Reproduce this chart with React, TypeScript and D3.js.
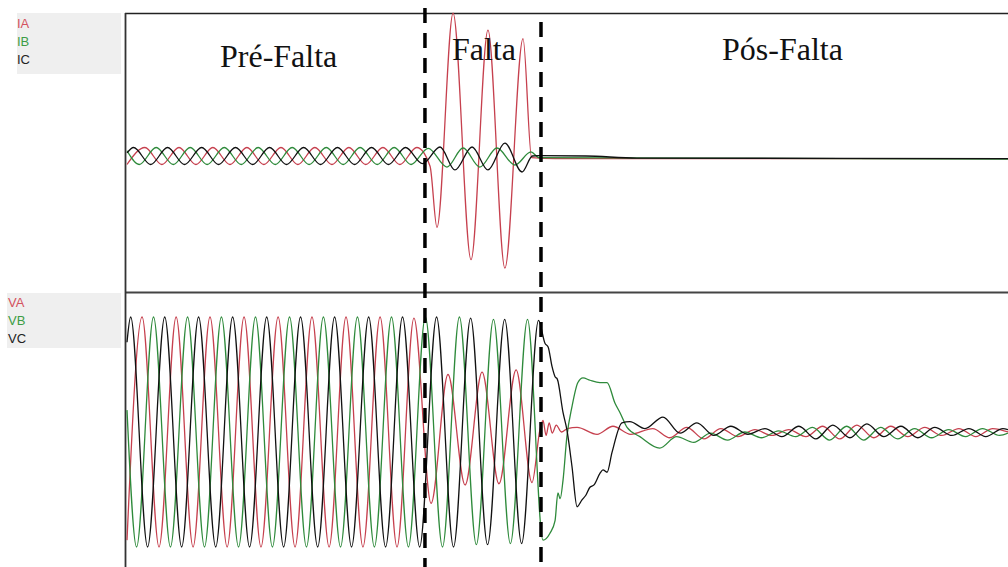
import React from 'react';
import * as d3 from 'd3';

const W = 1008;
const H = 567;

// ---- data (time in ms, currents in kA, voltages in pu) ----
const currentLabels = ['IA', 'IB', 'IC'];
const voltageLabels = ['VA', 'VB', 'VC'];
const regionLabels = ['Pré-Falta', 'Falta', 'Pós-Falta'];
const faultStart = 146.1;
const faultEnd = 203.0;

type P = [number, number];

const iaPoints: P[] = [
  [0, -0.5], [8.8, 0.5], [17.1, -0.5], [25.5, 0.5], [33.8, -0.5], [42.1, 0.5], [50.5, -0.5], [58.8, 0.5],
  [67.1, -0.5], [75.5, 0.5], [83.8, -0.5], [92.1, 0.5], [100.5, -0.5], [108.8, 0.5], [117.1, -0.5], [125.5, 0.5],
  [133.8, -0.5], [142.1, 0.5], [148.6, -0.6], [152, -4.2], [159.9, 8.4], [168.7, -6.1], [177, 7.4], [185.3, -6.6],
  [194.2, 6.9], [198.4, -0.1], [210, -0.15], [432, -0.15],
];
const ibPoints: P[] = [
  [0, 0.31], [6.0, -0.5], [14.3, 0.5], [22.7, -0.5], [31.0, 0.5], [39.3, -0.5], [47.7, 0.5], [56.0, -0.5],
  [64.3, 0.5], [72.7, -0.5], [81.0, 0.5], [89.3, -0.5], [97.7, 0.5], [106.0, -0.5], [114.3, 0.5], [122.7, -0.5],
  [131.0, 0.5], [139.3, -0.5], [147.7, 0.45], [156.9, -0.65], [164.8, 0.47], [173, -0.65], [181.4, 0.47],
  [190.2, -0.53], [198.1, 0.24], [202, -0.1], [432, -0.18],
];
const icPoints: P[] = [
  [0, 0.18], [3.2, 0.5], [11.6, -0.5], [19.9, 0.5], [28.2, -0.5], [36.6, 0.5], [44.9, -0.5], [53.2, 0.5],
  [61.6, -0.5], [69.9, 0.5], [78.2, -0.5], [86.6, 0.5], [94.9, -0.5], [103.2, 0.5], [111.6, -0.5], [119.9, 0.5],
  [128.2, -0.5], [136.6, 0.5], [144.9, -0.45], [153.5, 0.53], [160.8, -0.82], [169.2, 0.53], [177, -0.82],
  [185.3, 0.76], [193.7, -0.94], [198.8, 0.0], [202, 0.02], [225, 0.0], [250, -0.12], [432, -0.15],
];

const vaPoints: P[] = [
  [0, -0.94], [7.4, 1], [15.7, -1], [24.1, 1], [32.4, -1], [40.7, 1], [49.1, -1], [57.4, 1], [65.7, -1],
  [74.1, 1], [82.4, -1], [90.7, 1], [99.1, -1], [107.4, 1], [115.7, -1], [124.1, 1], [132.4, -1], [140.7, 0.99],
  [149.1, -0.62], [157.4, 0.5], [165.8, -0.46], [174.1, 0.52], [182.4, -0.45], [190.8, 0.54], [198.6, -0.44],
  [202.5, 0.02], [204, 0.1], [205.5, -0.03], [207, 0.08], [208.5, -0.01], [210.5, 0.06], [213, 0.0],
  [216, 0.03], [220.7, 0.04], [230.5, -0.02], [238.3, 0.05], [247, -0.02], [257.8, 0.03], [266.2, -0.05],
  [274.5, 0.04], [282.9, -0.06], [291.2, 0.03], [299.5, -0.04], [307.9, 0.02], [316.2, -0.03], [324.5, 0.02],
  [332.9, -0.04], [341.2, 0.05], [349.5, -0.06], [357.9, 0.06], [366.2, -0.05], [374.5, 0.05], [382.9, -0.04],
  [391.2, 0.04], [399.5, -0.03], [407.9, 0.03], [416.2, -0.04], [424.5, 0.03], [432, 0.0],
];
const vbPoints: P[] = [
  [0, 0.19], [4.7, -1], [13.0, 1], [21.3, -1], [29.7, 1], [38.0, -1], [46.3, 1], [54.7, -1], [63.0, 1],
  [71.3, -1], [79.7, 1], [88.0, -1], [96.3, 1], [104.7, -1], [113.0, 1], [121.3, -1], [129.7, 1], [138.0, -1],
  [146.3, 1], [154.7, -1], [163.0, 1], [171.3, -0.98], [179.7, 0.98], [188.0, -0.97], [196.4, 0.98],
  [204.0, -0.94], [207.4, -0.88], [209.9, -0.77], [211.3, -0.53], [212.4, -0.58], [213.8, -0.42], [215.7, -0.04],
  [218.2, 0.22], [221.1, 0.43], [223.6, 0.47], [227.0, 0.45], [231.9, 0.43], [235.4, 0.43], [239.3, 0.25],
  [241.7, 0.17], [245.2, 0.04], [251.5, -0.04], [261.2, -0.14], [269.5, -0.04], [277.9, -0.09], [286.2, -0.01],
  [294.5, -0.07], [302.9, 0.0], [311.2, -0.05], [319.5, 0.01], [327.9, -0.04], [336.2, 0.04], [344.5, -0.07],
  [352.9, 0.05], [361.2, -0.07], [369.5, 0.04], [377.9, -0.06], [386.2, 0.03], [394.5, -0.05], [402.9, 0.02],
  [411.2, -0.04], [419.5, 0.03], [427.9, -0.03], [432, -0.01],
];
const vcPoints: P[] = [
  [0, 0.78], [1.8, 1], [10.1, -1], [18.5, 1], [26.8, -1], [35.1, 1], [43.5, -1], [51.8, 1], [60.1, -1],
  [68.5, 1], [76.8, -1], [85.1, 1], [93.5, -1], [101.8, 1], [110.1, -1], [118.5, 1], [126.8, -1], [135.1, 1],
  [143.5, -1], [151.8, 1], [160.1, -1], [168.5, 0.99], [176.8, -0.98], [185.2, 0.98], [193.5, -0.97],
  [201.8, 0.97], [205.0, 0.77], [206.5, 0.74], [208.4, 0.57], [209.9, 0.48], [211, 0.46], [213.8, 0.17],
  [215.7, 0.02], [218.2, -0.3], [220.7, -0.65], [223.1, -0.59], [225, -0.55], [227, -0.48], [229, -0.46],
  [231.9, -0.36], [233.4, -0.33], [235.4, -0.35], [237.8, -0.18], [242.7, 0.08], [246.6, 0.09], [254, 0.03],
  [262.8, 0.13], [271.2, -0.01], [279.5, 0.08], [287.8, -0.03], [296.1, 0.05], [304.5, -0.02], [312.8, 0.03],
  [321.1, -0.04], [329.5, 0.05], [337.8, -0.06], [346.1, 0.06], [354.5, -0.05], [362.8, 0.07], [371.1, -0.04],
  [379.5, 0.05], [387.8, -0.05], [396.1, 0.04], [404.5, -0.03], [412.8, 0.03], [421.1, -0.04], [429.5, 0.03],
  [432, 0.02],
];

const currentSeries = [iaPoints, ibPoints, icPoints];
const voltageSeries = [vaPoints, vbPoints, vcPoints];

// ---- styles ----
const lineColors = ['#c6404e', '#2e8a3b', '#111111'];
const labelColors = ['#d4525e', '#3d9d45', '#222222'];

export default function App() {
  const x = d3.scaleLinear().domain([0, 432]).range([127, 1008]);
  const yI = d3.scaleLinear().domain([-8, 8]).range([292, 20]);
  const yV = d3.scaleLinear().domain([-1.2, 1.2]).range([570, 294]);

  const lineI = d3.line<P>().x(d => x(d[0])).y(d => yI(d[1])).curve(d3.curveMonotoneX);
  const lineV = d3.line<P>().x(d => x(d[0])).y(d => yV(d[1])).curve(d3.curveMonotoneX);

  const xs = x(faultStart);
  const xe = x(faultEnd);

  return (
    <svg width={W} height={H} style={{ position: 'absolute', left: 0, top: 0, background: '#fff' }}>
      <rect x={0} y={0} width={W} height={H} fill="#ffffff" />
      {/* legend boxes */}
      <rect x={17} y={13} width={104} height={61} fill="#efefef" />
      <rect x={7} y={293} width={114} height={55} fill="#efefef" />
      {currentLabels.map((l, i) => (
        <text key={l} x={17} y={28 + i * 18} fontFamily="Liberation Sans, Arial, sans-serif" fontSize={13}
          fill={labelColors[i]}>{l}</text>
      ))}
      {voltageLabels.map((l, i) => (
        <text key={l} x={8} y={307 + i * 18} fontFamily="Liberation Sans, Arial, sans-serif" fontSize={13}
          fill={labelColors[i]}>{l}</text>
      ))}

      {/* panel frame */}
      <line x1={125} x2={W} y1={13.5} y2={13.5} stroke="#222" strokeWidth={1.5} />
      <line x1={125} x2={W} y1={292.5} y2={292.5} stroke="#444" strokeWidth={1.8} />
      <line x1={125.5} x2={125.5} y1={13} y2={H} stroke="#333" strokeWidth={1.8} />

      {/* waveforms */}
      <g fill="none" strokeWidth={1.3} strokeLinejoin="round">
        {voltageSeries.map((s, i) => (
          <path key={'v' + i} d={lineV(s) || ''} stroke={lineColors[i]} />
        ))}
        {currentSeries.map((s, i) => (
          <path key={'i' + i} d={lineI(s) || ''} stroke={lineColors[i]} />
        ))}
      </g>

      {/* fault boundaries */}
      <line x1={xs} x2={xs} y1={8} y2={H} stroke="#000" strokeWidth={3.5} strokeDasharray="15 10" />
      <line x1={xe} x2={xe} y1={22} y2={H} stroke="#000" strokeWidth={3.5} strokeDasharray="15 10" />

      {/* region labels */}
      <g fontFamily="Liberation Serif, Times New Roman, serif" fontSize={32} fill="#111">
        <text x={220} y={67}>{regionLabels[0]}</text>
        <text x={xs + 27} y={60}>{regionLabels[1]}</text>
        <text x={722} y={60}>{regionLabels[2]}</text>
      </g>
    </svg>
  );
}
